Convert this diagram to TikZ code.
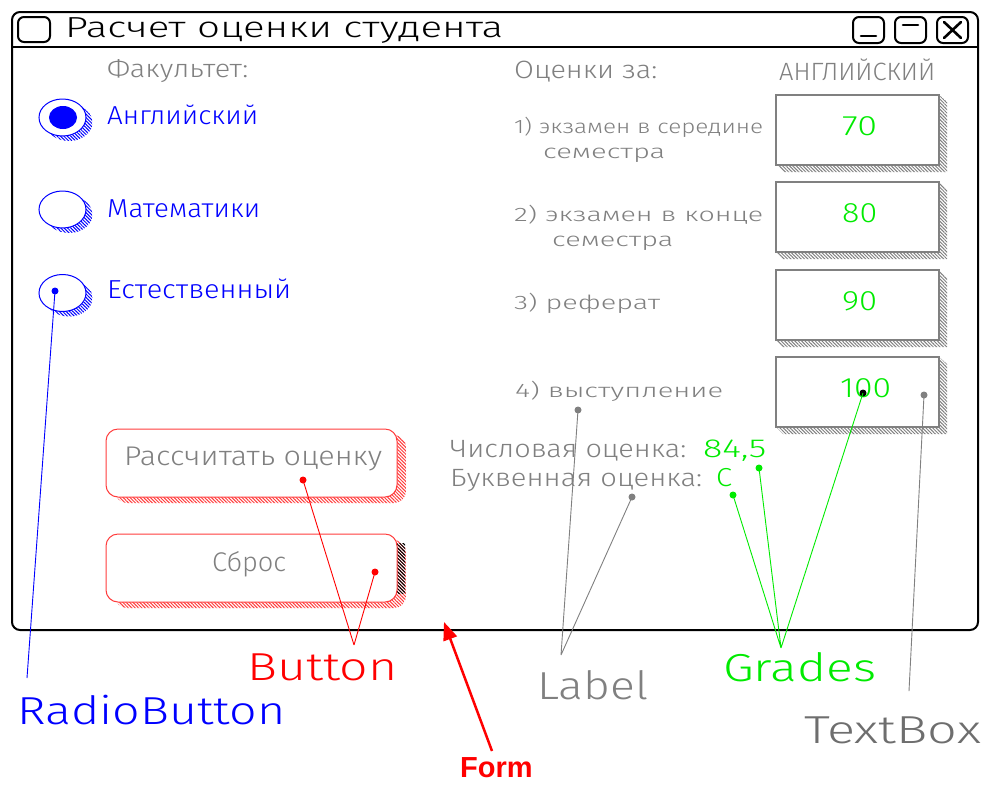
\documentclass[tikz,border=0pt]{standalone}
\usepackage{fontspec}
\usepackage{graphicx}
\setmainfont{Liberation Sans}
\newfontfamily\cadfont{Fira Sans Light}
\usetikzlibrary{patterns.meta,arrows.meta}
\definecolor{cgray}{RGB}{128,128,128}
\definecolor{cdgray}{RGB}{110,110,110}
\definecolor{cblue}{RGB}{0,0,255}
\definecolor{cred}{RGB}{255,0,0}
\definecolor{cbtn}{RGB}{255,60,60}
\definecolor{cgreen}{RGB}{0,235,0}
\newcommand\cadtxt[3]{\resizebox{#1pt}{\height}{\fontsize{#2pt}{#2pt}\selectfont\cadfont #3}}
\tikzset{
  frame/.style={draw=black, line width=2pt, rounded corners=8pt},
  winbtn/.style={draw=black, line width=2pt, rounded corners=6pt},
  winmark/.style={line width=2.6pt, line cap=round},
  hatch/.style={pattern={Lines[angle=-45,distance=2.4pt,line width=1pt]}},
  radio/.style={draw=cblue, line width=1pt, fill=white},
  tbox/.style={draw=cgray, line width=1.3pt, fill=white},
  btn/.style={draw=cbtn, line width=1pt, rounded corners=12pt, fill=white},
  dot/.style={circle, inner sep=0pt, minimum size=7pt},
  lead/.style={line width=0.9pt},
  txt/.style={inner sep=0pt, anchor=base west},
}
\begin{document}
\begin{tikzpicture}[x=1pt,y=-1pt]
\useasboundingbox (0,0) rectangle (984,785);
\fill[white] (0,0) rectangle (984,785);

% window frame
\draw[frame] (12,12) rectangle (978,630);
\draw[line width=2pt] (12,47) -- (978,47);
\draw[winbtn] (18,17) rectangle (50,42);
\draw[winbtn] (853,17) rectangle (884,43);
\draw[winmark] (861,36) -- (876,36);
\draw[winbtn] (895,17) rectangle (926,43);
\draw[winmark] (903,25) -- (918,25);
\draw[winbtn] (937,17) rectangle (968,43);
\draw[winmark] (944,22) -- (961,38) (944,38) -- (961,22);
\node[txt] (title) at (65,37) {\cadtxt{438}{29}{Расчет оценки студента}};

% radio buttons
\node[txt, text=cgray] (fac) at (107,77) {\cadtxt{141}{25}{Факультет:}};
\foreach \cy in {117.5,209.5,293}{
  \fill[hatch, pattern color=cblue] (69,{\cy+5}) ellipse [x radius=23.5, y radius=18.5];
  \draw[radio] (62.5,\cy) ellipse [x radius=23.5, y radius=18.5];
}
\fill[cblue] (63,117.5) ellipse [x radius=14, y radius=11.5];
\node[dot, fill=cblue] (rbdot) at (55,291) {};
\node[txt, text=cblue] (r1) at (107,124) {\cadtxt{151}{26}{Английский}};
\node[txt, text=cblue] (r2) at (107,217) {\cadtxt{153}{26}{Математики}};
\node[txt, text=cblue] (r3) at (107,298) {\cadtxt{184}{26}{Естественный}};

% grade labels
\node[txt, text=cgray] (oz) at (514,78) {\cadtxt{143}{25}{Оценки за:}};
\node[txt, text=cgray] (subj) at (779,80) {\cadtxt{156}{25}{АНГЛИЙСКИЙ}};
\node[txt, text=cgray] (l1) at (514,133) {\cadtxt{249}{19.5}{1) экзамен в середине}};
\node[txt, text=cgray] (l1b) at (543,158) {\cadtxt{122}{19.5}{семестра}};
\node[txt, text=cgray] (l2) at (514,221) {\cadtxt{249}{19.5}{2) экзамен в конце}};
\node[txt, text=cgray] (l2b) at (552,246) {\cadtxt{121}{19.5}{семестра}};
\node[txt, text=cgray] (l3) at (514,309) {\cadtxt{146}{19.5}{3) реферат}};
\node[txt, text=cgray] (l4) at (515,397) {\cadtxt{208}{19.5}{4) выступление}};

% text boxes
\foreach \t in {95,182,270,357}{
  \fill[hatch, pattern color=cgray] (939,\t) -- (947,{\t+7}) -- (947,{\t+77}) -- (783,{\t+77}) -- (776,{\t+70}) -- (939,{\t+70}) -- cycle;
  \draw[tbox] (776,\t) rectangle (939,{\t+70});
}
\node[txt, text=cgreen] (v1) at (842,135) {\cadtxt{35}{28}{70}};
\node[txt, text=cgreen] (v2) at (842,222) {\cadtxt{35}{28}{80}};
\node[txt, text=cgreen] (v3) at (842,310) {\cadtxt{35}{28}{90}};
\node[txt, text=cgreen] (v4) at (840,397) {\cadtxt{51}{28}{100}};

% results
\node[txt, text=cgray] (num) at (450,457) {\cadtxt{236}{25}{Числовая оценка:}};
\node[txt, text=cgreen] (numv) at (703,457) {\cadtxt{63}{26}{84,5}};
\node[txt, text=cgray] (let) at (450,486) {\cadtxt{252}{25}{Буквенная оценка:}};
\node[txt, text=cgreen] (letv) at (716,486) {\cadtxt{16}{26}{C}};

% buttons
\fill[hatch, pattern color=cbtn, rounded corners=12pt] (115,435) rectangle (406,503);
\draw[btn] (106,429) rectangle (397,497);
\fill[hatch, pattern color=cbtn, rounded corners=12pt] (115,540) rectangle (406,608);
\fill[hatch, pattern color=black] (397,543) rectangle (405,593);
\draw[btn] (106,534) rectangle (397,602);
\node[txt, text=cgray] (b1) at (124,465) {\cadtxt{258}{27}{Рассчитать оценку}};
\node[txt, text=cgray] (b2) at (212,571) {\cadtxt{74}{27}{Сброс}};

% dots
\node[dot, fill=cred] (bdot1) at (303,480) {};
\node[dot, fill=cred] (bdot2) at (375,572) {};
\node[dot, fill=cgray] (ldot1) at (578,410) {};
\node[dot, fill=cgray] (ldot2) at (632,497) {};
\node[dot, fill=cgreen] (gdot1) at (759,468) {};
\node[dot, fill=cgreen] (gdot2) at (733,495) {};
\node[dot, fill=black] (gdot3) at (863,393) {};
\node[dot, fill=cgray] (tdot) at (924,395) {};

% callout labels
\coordinate (rbend) at (27,678);
\coordinate (bapex) at (354,645);
\coordinate (lapex) at (561,655);
\coordinate (gapex) at (781,648);
\coordinate (tend) at (909,691);
\coordinate (formtail) at (492,751);
\coordinate (formtip) at (444,622);

\draw[lead, cblue] (rbend) -- (rbdot.center);
\draw[lead, cred] (bapex) -- (bdot1.center) (bapex) -- (bdot2.center);
\draw[lead, cgray] (lapex) -- (ldot1.center) (lapex) -- (ldot2.center);
\draw[lead, cgreen] (gapex) -- (gdot1.center) (gapex) -- (gdot2.center) (gapex) -- (gdot3.center);
\draw[lead, cgray] (tend) -- (tdot.center);
\draw[cred, line width=2.5pt, -{Triangle[length=18pt,width=14pt]}] (formtail) -- (formtip);

\node[txt, text=cblue] (lrb) at (17,724) {\cadtxt{268}{39}{RadioButton}};
\node[txt, text=cred] (lbtn) at (247,680) {\cadtxt{150}{39}{Button}};
\node[txt, text=cgray] (llab) at (537,699) {\cadtxt{111}{39}{Label}};
\node[txt, text=cgreen] (lgr) at (723,681) {\cadtxt{153}{39}{Grades}};
\node[txt, text=cdgray] (ltb) at (804,743) {\cadtxt{177}{39}{TextBox}};
\node[txt, text=cred, font=\bfseries\fontsize{29pt}{29pt}\selectfont] (lform) at (460,777) {Form};
\end{tikzpicture}
\end{document}
